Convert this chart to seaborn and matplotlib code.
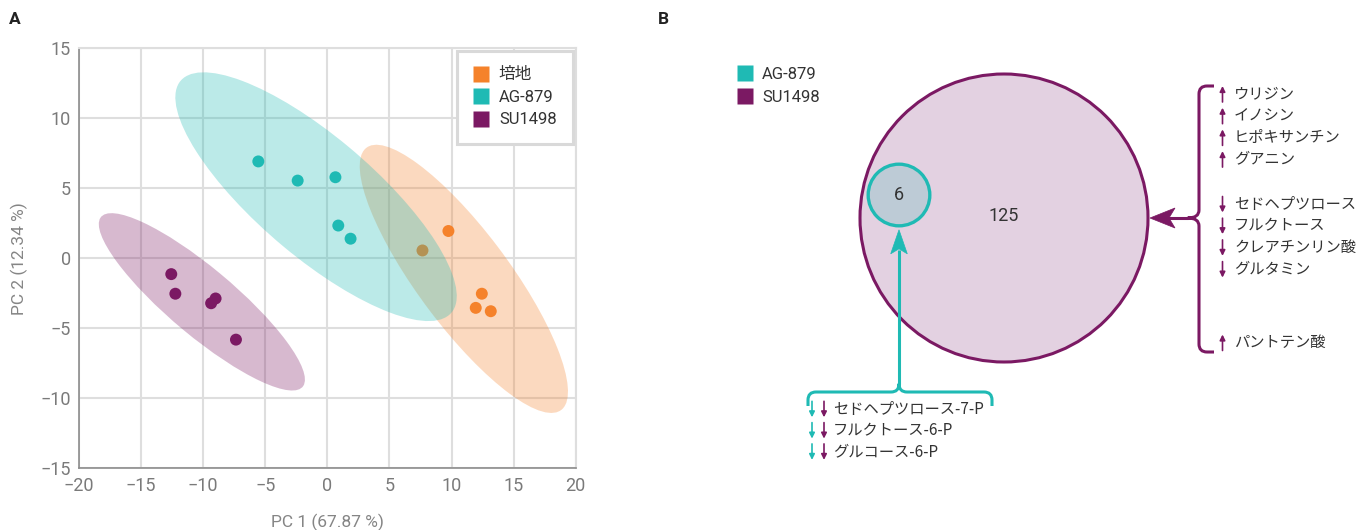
import numpy as np
import pandas as pd
import seaborn as sns
import matplotlib
matplotlib.use("Agg")
import matplotlib.pyplot as plt
from matplotlib.patches import Ellipse, Circle, Polygon, PathPatch
from matplotlib.path import Path
from matplotlib.lines import Line2D

# ---------------- data ----------------
groups = ["培地", "AG-879", "SU1498"]

pc1_medium = [9.75, 7.66, 12.44, 11.95, 13.16]
pc2_medium = [1.95, 0.56, -2.53, -3.54, -3.78]
pc1_ag879 = [-5.56, -2.39, 0.65, 0.88, 1.87]
pc2_ag879 = [6.92, 5.55, 5.79, 2.34, 1.40]
pc1_su1498 = [-12.57, -12.24, -9.36, -9.00, -7.36]
pc2_su1498 = [-1.13, -2.53, -3.21, -2.87, -5.81]

pc1_label = "PC 1 (67.87 %)"
pc2_label = "PC 2 (12.34 %)"
x_ticks = [-20, -15, -10, -5, 0, 5, 10, 15, 20]
y_ticks = [-15, -10, -5, 0, 5, 10, 15]
ellipse_level = 0.999

# Venn counts
n_shared = 6
n_su_only = 125

# metabolites changed only by SU1498 (blocks of rows)
su_blocks = [
    (["ウリジン", "イノシン", "ヒポキサンチン", "グアニン"], "up"),
    (["セドヘプツロース", "フルクトース", "クレアチンリン酸", "グルタミン"], "down"),
    (["パントテン酸"], "up"),
]
# metabolites changed by both inhibitors
shared_metabolites = ["セドヘプツロース-7-P", "フルクトース-6-P", "グルコース-6-P"]
shared_direction_ag = ["down", "down", "down"]
shared_direction_su = ["down", "down", "down"]

# ---------------- style ----------------
palette = {"培地": "#f5822b", "AG-879": "#1fbab4", "SU1498": "#7b1963"}
TXT = "#333333"
GREY = "#858585"

sns.set_style("white")
plt.rcParams["font.family"] = ["Roboto", "Noto Sans CJK JP", "DejaVu Sans"]

W, H = 1370, 530
fig = plt.figure(figsize=(W / 100, H / 100), dpi=100)

# ---------------- panel A: PCA scores ----------------
df = pd.DataFrame({
    "group": ["培地"] * len(pc1_medium) + ["AG-879"] * len(pc1_ag879) + ["SU1498"] * len(pc1_su1498),
    "PC1": pc1_medium + pc1_ag879 + pc1_su1498,
    "PC2": pc2_medium + pc2_ag879 + pc2_su1498,
})

axA = fig.add_axes([79 / W, 1 - 468.3 / H, 496.7 / W, 420 / H])


def confidence_ellipse(x, y, level, **kw):
    x = np.asarray(x)
    y = np.asarray(y)
    cov = np.cov(x, y)
    vals, vecs = np.linalg.eigh(cov)
    k = np.sqrt(-2.0 * np.log(1.0 - level))
    width = 2 * k * np.sqrt(vals[1])
    height = 2 * k * np.sqrt(vals[0])
    angle = np.degrees(np.arctan2(vecs[1, 1], vecs[0, 1]))
    return Ellipse((x.mean(), y.mean()), width, height, angle=angle, **kw)


layer = {"SU1498": 1, "培地": 3, "AG-879": 5}
for g in groups:
    sub = df[df["group"] == g]
    axA.add_patch(confidence_ellipse(sub["PC1"], sub["PC2"], ellipse_level,
                                     facecolor=palette[g], alpha=0.3,
                                     edgecolor="none", zorder=layer[g]))
    sns.scatterplot(data=sub, x="PC1", y="PC2", color=palette[g], s=74,
                    edgecolor="none", linewidth=0, ax=axA, zorder=layer[g] + 1,
                    legend=False)

axA.set_xlim(x_ticks[0], x_ticks[-1])
axA.set_ylim(y_ticks[0], y_ticks[-1])
axA.set_xticks(x_ticks)
axA.set_yticks(y_ticks)
axA.grid(True, color="#dedede", lw=1.5)
axA.set_axisbelow(True)
for side in ["top", "right"]:
    axA.spines[side].set_color("#dedede")
    axA.spines[side].set_linewidth(1.5)
for side in ["left", "bottom"]:
    axA.spines[side].set_color("#8c8c8c")
    axA.spines[side].set_linewidth(1.2)
axA.tick_params(axis="both", colors="#8c8c8c", labelcolor="#7a7a7a",
                length=4, width=1, labelsize=13, pad=2)
axA.set_xlabel(pc1_label, fontsize=12.5, color=GREY, labelpad=14)
axA.set_ylabel(pc2_label, fontsize=12.5, color=GREY, labelpad=9)

handlesA = [Line2D([], [], marker="s", ls="", markersize=11,
                   markerfacecolor=palette[g], markeredgecolor="none", label=g)
            for g in groups]
legA = axA.legend(handles=handlesA, loc="upper right", bbox_to_anchor=(1, 1),
                  borderaxespad=0.15, fontsize=12, frameon=True, fancybox=False,
                  edgecolor="#d9d9d9", framealpha=1, borderpad=1.0,
                  labelspacing=0.45, handlelength=0.9, handletextpad=0.6)
legA.get_frame().set_linewidth(2.2)
for t in legA.get_texts():
    t.set_color(TXT)

# ---------------- panel B: Venn diagram ----------------
axB = fig.add_axes([0, 0, 1, 1])
axB.set_xlim(0, W)
axB.set_ylim(H, 0)
axB.set_aspect("equal")
axB.axis("off")

big_c, big_r = (1004, 218), 144
small_c = (899, 195)
small_r = big_r * np.sqrt(n_shared / (n_shared + n_su_only))

axB.add_patch(Circle(big_c, big_r, facecolor="#e3d1e1",
                     edgecolor=palette["SU1498"], lw=2.2, zorder=1))
axB.add_patch(Circle(small_c, small_r, facecolor="#bdcbd6",
                     edgecolor=palette["AG-879"], lw=2.4, zorder=2))
axB.text(big_c[0], big_c[1] - 2, str(n_su_only), ha="center", va="center",
         fontsize=13, color=TXT)
axB.text(small_c[0], small_c[1], str(n_shared), ha="center", va="center",
         fontsize=13, color=TXT)


def stealth_head(tip, direction, length, half_w, notch, color):
    tip = np.asarray(tip, float)
    d = np.asarray(direction, float)
    d = d / np.hypot(*d)
    n = np.array([-d[1], d[0]])
    back = tip - d * length
    pts = [tip, back + n * half_w, tip - d * (length - notch), back - n * half_w]
    axB.add_patch(Polygon(pts, closed=True, facecolor=color, edgecolor=color,
                          lw=0.5, zorder=4))


def path_line(verts, codes, color, lw=2.2):
    axB.add_patch(PathPatch(Path(verts, codes), facecolor="none",
                            edgecolor=color, lw=lw, capstyle="butt",
                            joinstyle="round", zorder=3))


M, L, Q = Path.MOVETO, Path.LINETO, Path.CURVE3

# purple curly brace and arrow pointing to the big circle
bx, by0, by1, bym, bcx = 1199, 86, 352, 218, 1188
path_line(
    [(1214, by0), (1207, by0), (bx, by0), (bx, by0 + 8), (bx, bym - 8),
     (bx, bym), (bcx, bym), (bx, bym), (bx, bym + 8), (bx, by1 - 8),
     (bx, by1), (1207, by1), (1214, by1)],
    [M, L, Q, Q, L, Q, Q, Q, Q, L, Q, Q, L],
    palette["SU1498"])
path_line([(bcx, bym), (1168, bym)], [M, L], palette["SU1498"])
stealth_head((big_c[0] + big_r + 2, bym), (-1, 0), 25, 10, 6, palette["SU1498"])

# cyan curly brace and arrow pointing to the small circle
cy0, cy1, cxl, cxr, cxm, ctop = 392, 406, 808, 992, 899, 384
path_line(
    [(cxl, cy1), (cxl, cy0 + 8), (cxl, cy0), (cxl + 8, cy0), (cxm - 8, cy0),
     (cxm, cy0), (cxm, ctop), (cxm, cy0), (cxm + 8, cy0), (cxr - 8, cy0),
     (cxr, cy0), (cxr, cy0 + 8), (cxr, cy1)],
    [M, L, Q, Q, L, Q, Q, Q, Q, L, Q, Q, L],
    palette["AG-879"])
path_line([(cxm, ctop), (cxm, 250)], [M, L], palette["AG-879"])
stealth_head((cxm, small_c[1] + small_r + 4), (0, -1), 24, 8.3, 5, palette["AG-879"])


def small_arrow(x, y, direction, color):
    sgn = -1 if direction == "up" else 1
    axB.annotate("", xy=(x, y + sgn * 8), xytext=(x, y - sgn * 8),
                 arrowprops=dict(arrowstyle="-|>", color=color, lw=1.2,
                                 mutation_scale=8, shrinkA=0, shrinkB=0))


jp = ["Noto Sans CJK JP", "DejaVu Sans"]
block_start = [94, 204.5, 342.5]
row_step = 21.7
for (names, direction), y0 in zip(su_blocks, block_start):
    for i, name in enumerate(names):
        y = y0 + i * row_step
        small_arrow(1222.5, y, direction, palette["SU1498"])
        axB.text(1234, y, name, ha="left", va="center", fontsize=11,
                 color=TXT, family=jp)

for i, name in enumerate(shared_metabolites):
    y = 409.3 + i * 21.3
    small_arrow(812, y, shared_direction_ag[i], palette["AG-879"])
    small_arrow(824, y, shared_direction_su[i], palette["SU1498"])
    axB.text(833, y, name, ha="left", va="center", fontsize=11,
             color=TXT, family=jp)

handlesB = [Line2D([], [], marker="s", ls="", markersize=11,
                   markerfacecolor=palette[g], markeredgecolor="none", label=g)
            for g in groups[1:]]
legB = axB.legend(handles=handlesB, loc="upper left",
                  bbox_to_anchor=(737 / W, 1 - 67 / H),
                  bbox_transform=fig.transFigure, frameon=False, fontsize=12,
                  borderpad=0, borderaxespad=0, labelspacing=0.45,
                  handlelength=0.9, handletextpad=0.6)
for t in legB.get_texts():
    t.set_color(TXT)

# panel letters
fig.text(15 / W, 1 - 20 / H, "A", fontsize=12.5, fontweight="bold",
         ha="center", va="center", color="#222222")
fig.text(663 / W, 1 - 20 / H, "B", fontsize=12.5, fontweight="bold",
         ha="center", va="center", color="#222222")

fig.savefig("out.png", dpi=100)
